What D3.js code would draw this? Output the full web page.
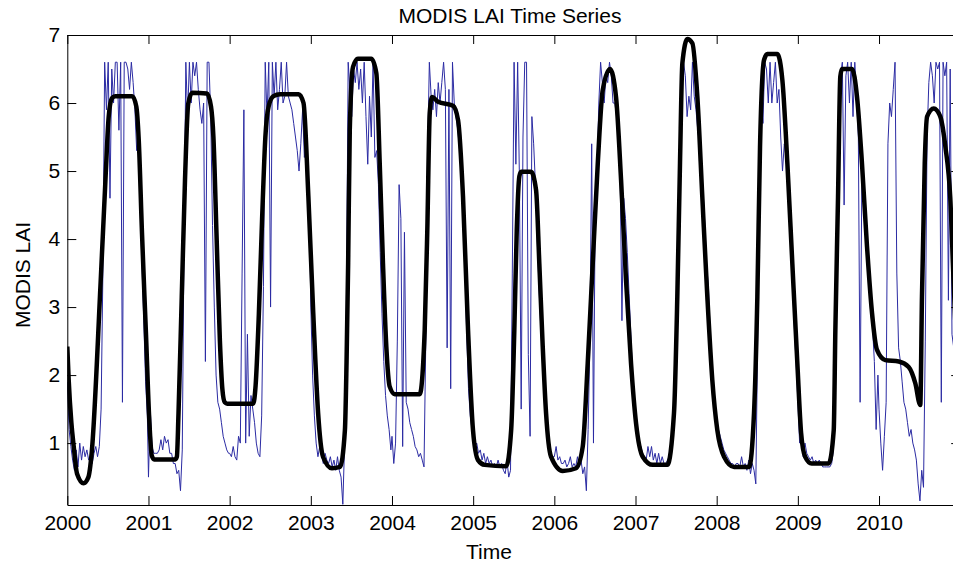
<!DOCTYPE html>
<html>
<head>
<meta charset="utf-8">
<script src="https://cdn.jsdelivr.net/npm/d3@7"></script>
<style>
  body { margin: 0; background: #fff; }
  svg { display: block; font-family: "Liberation Sans", Arial, sans-serif; }
</style>
</head>
<body>
<div class="chart"></div>
<script>
// raw MODIS LAI, one 8-day composite per entry, 46 per year
var lai2000 = [1.9,1.2,0.95,0.75,0.6,0.9,0.65,1.0,0.75,0.95,0.8,0.9,0.75,0.8,0.7,0.85,0.95,0.8,0.95,1.5,3.5,6.6,5.9,6.6,4.6,6.5,6.0,6.6,6.6,5.6,6.6,1.6,6.6,6.6,6.5,6.2,6.6,6.3,5.9,5.3,5.4,4.4,3.6,2.8,1.9,1.4];
var lai2001 = [0.5,1.5,0.95,0.85,0.85,0.85,0.9,1.05,0.9,1.1,1.0,1.05,0.85,0.85,0.7,0.7,0.55,0.6,0.3,0.9,4.0,6.6,5.8,6.6,6.0,6.6,6.4,6.6,6.2,5.9,5.7,6.0,2.2,6.6,6.6,5.8,4.2,3.0,2.0,1.6,1.5,1.3,1.1,1.0,0.9,0.85];
var lai2002 = [0.85,0.8,0.95,0.8,0.75,1.1,1.0,3.5,5.9,1.0,2.6,1.1,1.7,1.5,1.3,1.0,0.85,0.8,1.4,3.3,6.6,5.8,6.6,3.0,6.6,6.1,6.6,5.9,6.2,6.6,6.0,6.1,6.6,6.1,6.0,5.9,5.7,5.5,5.3,5.0,5.4,5.9,5.2,5.6,5.0,4.2];
var lai2003 = [3.0,2.0,1.4,1.0,0.8,0.95,0.85,0.7,0.85,0.75,0.7,0.8,0.65,0.75,0.6,0.8,0.6,0.5,0.1,1.0,3.0,6.6,6.2,5.8,6.5,6.3,6.6,6.2,6.5,6.0,6.6,5.8,5.1,6.1,5.5,6.6,5.2,5.3,4.8,3.8,2.9,2.2,1.7,1.4,1.2,0.9];
var lai2004 = [1.1,0.7,1.0,2.5,4.8,4.3,0.95,4.1,1.6,1.5,1.3,1.2,1.1,0.95,0.9,0.8,0.85,0.75,0.65,2.5,5.2,6.6,6.1,5.9,6.2,5.8,6.3,6.0,6.3,6.6,6.2,2.4,6.2,1.8,6.6,6.0,5.8,5.6,5.3,5.1,4.6,3.6,2.6,1.8,1.4,1.2];
var lai2005 = [1.1,0.95,1.0,0.85,0.9,0.75,0.85,0.7,0.8,0.7,0.75,0.65,0.7,0.65,0.75,0.65,0.7,0.6,0.55,0.75,0.5,0.6,3.5,6.6,5.1,6.6,4.9,1.5,5.5,6.6,6.6,2.3,1.1,5.8,5.4,4.8,4.0,3.3,2.7,2.2,1.7,1.3,1.0,0.85,0.75,0.8];
var lai2006 = [0.8,0.95,0.75,0.8,0.7,0.7,0.75,0.65,0.7,0.8,0.65,0.7,0.65,0.8,0.65,0.75,0.55,0.65,0.3,1.2,2.5,5.4,1.0,4.6,5.0,6.0,6.6,6.3,6.0,6.4,6.3,6.6,6.4,6.0,6.0,5.8,5.4,5.0,2.8,4.6,4.3,3.8,3.2,2.6,2.0,1.6];
var lai2007 = [1.4,1.2,1.0,0.95,0.85,0.8,0.75,0.95,0.8,0.95,0.75,0.85,0.7,0.85,0.7,0.8,0.7,0.7,0.75,0.8,1.0,1.3,2.0,3.2,4.5,5.6,6.1,6.6,6.4,5.8,6.1,5.9,6.6,6.1,5.9,5.6,5.4,5.1,4.7,4.2,3.6,3.3,2.6,2.1,1.8,1.5];
var lai2008 = [1.3,1.2,1.1,1.0,0.9,0.85,0.8,0.75,0.7,0.7,0.65,0.7,0.7,0.65,0.8,0.65,0.7,0.6,0.75,0.55,0.7,0.6,0.4,2.5,4.8,6.2,5.7,6.6,6.5,6.0,6.6,6.0,6.3,6.6,6.0,6.2,5.5,5.0,5.4,5.2,4.8,4.3,3.7,3.1,2.5,2.0];
var lai2009 = [1.6,1.0,1.1,0.8,1.0,0.85,0.8,0.75,0.8,0.7,0.75,0.7,0.75,0.7,0.65,0.65,0.65,0.65,0.65,0.7,0.9,2.2,4.5,6.0,6.4,6.6,4.5,6.4,6.6,6.0,6.6,5.8,6.6,6.1,5.5,1.6,5.0,4.7,4.2,3.8,3.3,2.9,2.7,2.2,1.2,2.0];
var lai2010 = [1.5,1.0,0.6,1.1,1.6,5.4,6.0,5.8,6.2,6.6,3.5,2.4,2.2,1.9,1.6,1.5,1.3,1.1,1.2,1.0,0.9,0.75,0.4,0.15,0.6,0.35,2.5,5.5,6.3,6.6,6.4,6.0,6.6,6.5,6.6,1.6,6.6,6.4,6.6,3.1,6.5,2.6,2.4,2.2,2.0,1.8];

var rawYears = [2000,2001,2002,2003,2004,2005,2006,2007,2008,2009,2010];
var rawByYear = [lai2000,lai2001,lai2002,lai2003,lai2004,lai2005,lai2006,lai2007,lai2008,lai2009,lai2010];

// smoothed fit, read at its turning points (decimal year, LAI)
var fitTime = [2000.000,2000.017,2000.050,2000.079,2000.120,2000.200,2000.260,2000.300,2000.410,2000.470,2000.510,2000.550,2000.590,2000.800,2000.850,2000.880,2000.920,2000.970,2001.010,2001.040,2001.070,2001.330,2001.350,2001.370,2001.410,2001.450,2001.490,2001.540,2001.720,2001.770,2001.800,2001.840,2001.880,2001.910,2001.940,2001.970,2002.290,2002.320,2002.360,2002.400,2002.440,2002.480,2002.540,2002.620,2002.850,2002.910,2002.970,2003.030,2003.090,2003.150,2003.260,2003.360,2003.420,2003.440,2003.460,2003.480,2003.520,2003.580,2003.745,2003.807,2003.849,2003.889,2003.930,2003.972,2004.034,2004.342,2004.403,2004.435,2004.465,2004.493,2004.567,2004.752,2004.814,2004.875,2004.937,2004.998,2005.060,2005.142,2005.407,2005.468,2005.507,2005.537,2005.569,2005.590,2005.713,2005.775,2005.815,2005.857,2005.898,2005.959,2006.103,2006.267,2006.350,2006.411,2006.473,2006.535,2006.596,2006.686,2006.760,2006.822,2006.883,2006.945,2007.007,2007.089,2007.212,2007.392,2007.474,2007.515,2007.548,2007.577,2007.638,2007.700,2007.762,2007.823,2007.885,2007.946,2008.008,2008.091,2008.214,2008.399,2008.460,2008.501,2008.534,2008.583,2008.624,2008.747,2008.809,2008.871,2008.932,2008.994,2009.040,2009.090,2009.170,2009.380,2009.442,2009.462,2009.495,2009.523,2009.544,2009.667,2009.729,2009.790,2009.852,2009.914,2009.975,2010.078,2010.243,2010.365,2010.447,2010.508,2010.529,2010.563,2010.592,2010.674,2010.755,2010.817,2010.877,2010.918,2010.960];
var fitLai = [2.42,1.93,1.30,0.95,0.55,0.41,0.50,0.85,3.35,4.87,5.80,6.07,6.10,6.10,5.95,5.46,4.09,2.58,1.34,0.82,0.76,0.76,0.80,1.44,3.15,4.87,5.99,6.15,6.14,5.95,5.50,4.00,2.50,1.80,1.60,1.58,1.58,1.85,2.90,4.30,5.50,5.95,6.10,6.13,6.13,6.00,4.62,2.91,1.44,0.80,0.63,0.65,1.19,2.18,3.65,5.60,6.53,6.65,6.65,6.44,5.11,3.64,2.42,1.83,1.72,1.72,2.66,4.13,5.85,6.09,6.02,5.96,5.75,4.62,2.66,1.19,0.75,0.68,0.66,1.19,2.66,4.13,4.92,4.99,4.99,4.72,3.64,2.42,1.44,0.80,0.59,0.63,0.95,2.17,3.64,5.11,6.19,6.50,6.09,4.87,3.40,2.17,1.29,0.80,0.68,0.68,1.44,3.15,5.11,6.58,6.94,6.88,6.09,4.62,3.15,1.93,1.19,0.80,0.65,0.65,1.44,3.15,5.36,6.63,6.72,6.72,6.34,5.11,3.64,2.17,1.15,0.80,0.70,0.70,1.19,2.66,4.62,6.39,6.50,6.50,6.09,5.11,3.89,2.91,2.37,2.22,2.20,2.12,1.88,1.56,3.15,5.11,5.80,5.92,5.80,5.36,4.62,3.40,2.20];

var xTicks = [2000,2001,2002,2003,2004,2005,2006,2007,2008,2009,2010];
var yTicks = [1,2,3,4,5,6,7];

var chartTitle = "MODIS LAI Time Series";
var xLabel = "Time";
var yLabel = "MODIS LAI";

var svgWidth = 953, svgHeight = 565;
var plot = { left: 67.3, top: 35, right: 960.2, bottom: 505 };
var fontSize = 21;

var raw = [];
rawYears.forEach(function(yr, i) {
  rawByYear[i].forEach(function(v, k) {
    raw.push({ t: yr + k * 8 / 365, v: v });
  });
});
var fit = fitTime.map(function(t, i) { return { t: t, v: fitLai[i] }; });

var svg = d3.select(".chart")
  .append("svg")
    .attr("width", svgWidth)
    .attr("height", svgHeight);

svg.append("rect")
  .attr("width", svgWidth)
  .attr("height", svgHeight)
  .attr("fill", "#fff");

var x = d3.scaleLinear()
  .domain([2000, 2011])
  .range([plot.left, plot.right]);

var y = d3.scaleLinear()
  .domain([0.09, 7])
  .range([plot.bottom, plot.top]);

svg.append("clipPath")
  .attr("id", "plot-clip")
  .append("rect")
    .attr("x", plot.left)
    .attr("y", plot.top)
    .attr("width", plot.right - plot.left)
    .attr("height", plot.bottom - plot.top);

var series = svg.append("g").attr("clip-path", "url(#plot-clip)");

// thin blue raw series
series.append("path")
  .datum(raw)
  .attr("fill", "none")
  .attr("stroke", "#2b2ba3")
  .attr("stroke-width", 1)
  .attr("stroke-linejoin", "round")
  .attr("d", d3.line()
    .x(function(d) { return x(d.t); })
    .y(function(d) { return y(d.v); }));

// thick black fitted curve
series.append("path")
  .datum(fit)
  .attr("fill", "none")
  .attr("stroke", "#000")
  .attr("stroke-width", 4.5)
  .attr("stroke-linejoin", "round")
  .attr("d", d3.line()
    .curve(d3.curveMonotoneX)
    .x(function(d) { return x(d.t); })
    .y(function(d) { return y(d.v); }));

// matlab style box with inward ticks on all four sides
var styleAxis = function(g) {
  g.attr("font-family", null).attr("font-size", null);
  g.selectAll("path.domain").attr("stroke", "#000");
  g.selectAll("line").attr("stroke", "#000");
  g.selectAll("text")
    .attr("fill", "#000")
    .style("font-size", fontSize + "px");
};

svg.append("g")
  .attr("transform", "translate(0," + plot.bottom + ")")
  .call(d3.axisBottom(x).tickValues(xTicks).tickFormat(d3.format("d"))
    .tickSizeInner(-9).tickSizeOuter(0).tickPadding(10))
  .call(styleAxis);

svg.append("g")
  .attr("transform", "translate(0," + plot.top + ")")
  .call(d3.axisTop(x).tickValues(xTicks).tickFormat("")
    .tickSizeInner(-9).tickSizeOuter(0))
  .call(styleAxis);

svg.append("g")
  .attr("transform", "translate(" + plot.left + ",0)")
  .call(d3.axisLeft(y).tickValues(yTicks).tickFormat(d3.format("d"))
    .tickSizeInner(-9).tickSizeOuter(0).tickPadding(7))
  .call(styleAxis);

svg.append("g")
  .attr("transform", "translate(" + plot.right + ",0)")
  .call(d3.axisRight(y).tickValues(yTicks).tickFormat("")
    .tickSizeInner(-9).tickSizeOuter(0))
  .call(styleAxis);

svg.append("text")
  .attr("x", 510)
  .attr("y", 23)
  .attr("text-anchor", "middle")
  .style("font-size", fontSize + "px")
  .text(chartTitle);

svg.append("text")
  .attr("x", 489)
  .attr("y", 559)
  .attr("text-anchor", "middle")
  .style("font-size", fontSize + "px")
  .text(xLabel);

svg.append("text")
  .attr("transform", "translate(29.5,275) rotate(-90)")
  .attr("text-anchor", "middle")
  .style("font-size", fontSize + "px")
  .text(yLabel);
</script>
</body>
</html>
